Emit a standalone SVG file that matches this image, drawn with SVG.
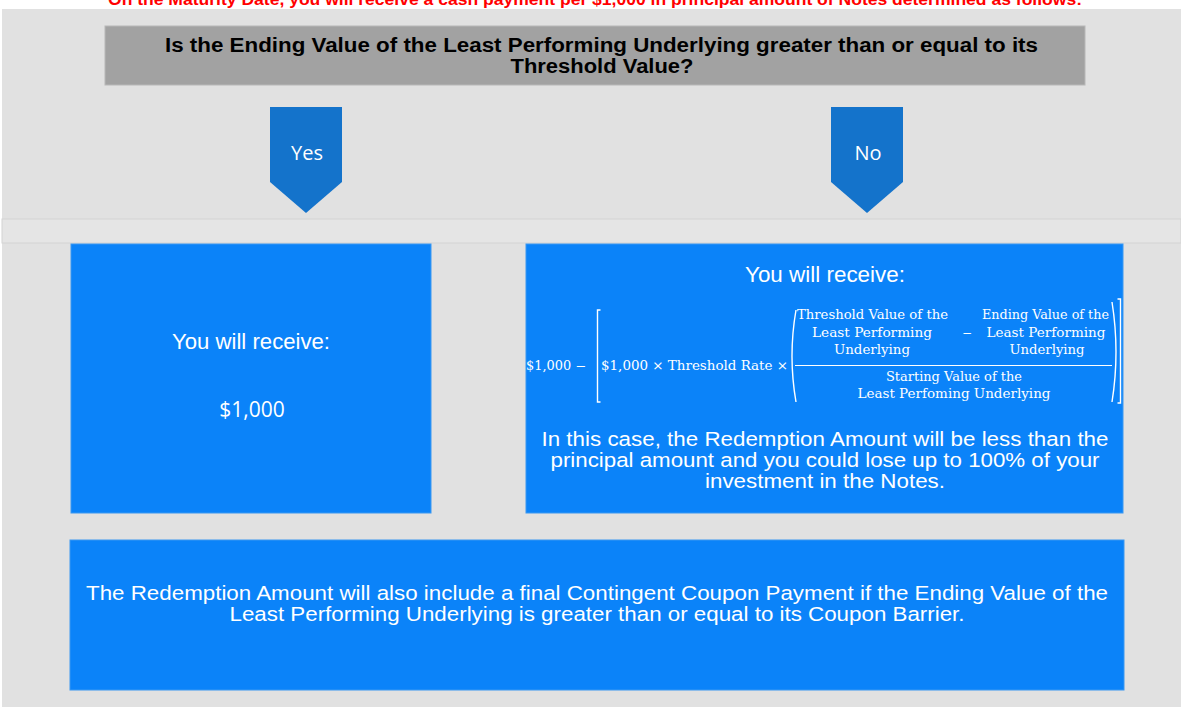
<svg xmlns="http://www.w3.org/2000/svg" width="1181" height="707" viewBox="0 0 1181 707">
<style>
  .sans { font-family: "Liberation Sans", Arial, sans-serif; }
  .open { font-family: "Open Sans", "Liberation Sans", sans-serif; }
  .serif { font-family: "DejaVu Serif", "Liberation Serif", serif; font-size: 12px; fill: #ffffff; }
  .wt { fill: #ffffff; text-anchor: middle; }
  .box { fill: #0b83f9; stroke: #3a98f2; stroke-width: 1; }
  .chev { fill: #1473cb; }
  .br { fill: none; stroke: #ffffff; stroke-width: 1.4; }
</style>
<rect x="0" y="0" width="1181" height="707" fill="#ffffff"/>
<rect x="2" y="9" width="1179" height="698" fill="#e1e1e1"/>

<g id="note">
  <text x="595" y="5" class="sans" font-size="16" font-weight="bold" fill="#ff0000" text-anchor="middle" textLength="974" lengthAdjust="spacingAndGlyphs">On the Maturity Date, you will receive a cash payment per $1,000 in principal amount of Notes determined as follows:</text>
</g>

<g id="question">
  <rect x="105" y="26" width="980" height="59" fill="#a2a2a2" stroke="#b8b8b8" stroke-width="1"/>
  <text x="601.5" y="52" class="sans" font-size="19.5" font-weight="bold" fill="#000000" text-anchor="middle" textLength="873" lengthAdjust="spacingAndGlyphs">Is the Ending Value of the Least Performing Underlying greater than or equal to its</text>
  <text x="602" y="73" class="sans" font-size="19.5" font-weight="bold" fill="#000000" text-anchor="middle" textLength="183" lengthAdjust="spacingAndGlyphs">Threshold Value?</text>
</g>

<g id="band">
  <rect x="2" y="219" width="1179" height="24" fill="#e5e5e5" stroke="#d3d3d3" stroke-width="1"/>
</g>

<g id="connectors">
  <g id="yes-arrow">
    <path class="chev" d="M270,107 H342 V182 L306,213 L270,182 Z"/>
    <text x="307" y="160" class="open wt" font-size="20">Yes</text>
  </g>
  <g id="no-arrow">
    <path class="chev" d="M831,107 H903 V182 L867,213 L831,182 Z"/>
    <text x="868" y="160" class="open wt" font-size="20">No</text>
  </g>
</g>

<g id="yes-box">
  <rect class="box" x="71" y="244" width="360" height="269"/>
  <text x="251" y="349" class="sans wt" font-size="21.5" textLength="158" lengthAdjust="spacingAndGlyphs">You will receive:</text>
  <text x="252" y="417" class="open wt" font-size="21">$1,000</text>
</g>

<g id="no-box">
  <rect class="box" x="526" y="244" width="597" height="269"/>
  <text x="825" y="282" class="sans wt" font-size="21.5" textLength="160" lengthAdjust="spacingAndGlyphs">You will receive:</text>
  <g id="formula">
    <text x="526" y="370" class="serif" textLength="60" lengthAdjust="spacingAndGlyphs">$1,000 −</text>
    <path class="br" d="M600.5,310 H597.5 V402 H600.5"/>
    <text x="601" y="370" class="serif" textLength="187" lengthAdjust="spacingAndGlyphs">$1,000 × Threshold Rate ×</text>
    <path class="br" d="M796,310 Q788,356 796,402"/>
    <text x="797" y="319" class="serif" textLength="151" lengthAdjust="spacingAndGlyphs">Threshold Value of the</text>
    <text x="872" y="337" class="serif" text-anchor="middle" textLength="120" lengthAdjust="spacingAndGlyphs">Least Performing</text>
    <text x="872" y="354" class="serif" text-anchor="middle" textLength="76" lengthAdjust="spacingAndGlyphs">Underlying</text>
    <text x="967" y="337" class="serif" text-anchor="middle">−</text>
    <text x="982" y="319" class="serif" textLength="127" lengthAdjust="spacingAndGlyphs">Ending Value of the</text>
    <text x="1046" y="337" class="serif" text-anchor="middle" textLength="119" lengthAdjust="spacingAndGlyphs">Least Performing</text>
    <text x="1047" y="354" class="serif" text-anchor="middle" textLength="75" lengthAdjust="spacingAndGlyphs">Underlying</text>
    <line x1="795" y1="365.5" x2="1112" y2="365.5" stroke="#ffffff" stroke-width="1"/>
    <text x="954" y="381" class="serif" text-anchor="middle" textLength="136" lengthAdjust="spacingAndGlyphs">Starting Value of the</text>
    <text x="954" y="398" class="serif" text-anchor="middle" textLength="193" lengthAdjust="spacingAndGlyphs">Least Perfoming Underlying</text>
    <path class="br" d="M1112,302 Q1120,352 1112,402"/>
    <path class="br" d="M1117.5,299 H1120.5 V403 H1117.5"/>
  </g>
  <text x="825" y="446" class="sans wt" font-size="20.5" textLength="567" lengthAdjust="spacingAndGlyphs">In this case, the Redemption Amount will be less than the</text>
  <text x="825" y="467" class="sans wt" font-size="20.5" textLength="549" lengthAdjust="spacingAndGlyphs">principal amount and you could lose up to 100% of your</text>
  <text x="825" y="488" class="sans wt" font-size="20.5" textLength="240" lengthAdjust="spacingAndGlyphs">investment in the Notes.</text>
</g>

<g id="coupon-box">
  <rect class="box" x="70" y="540" width="1054" height="150"/>
  <text x="597" y="600" class="sans wt" font-size="20.5" textLength="1022" lengthAdjust="spacingAndGlyphs">The Redemption Amount will also include a final Contingent Coupon Payment if the Ending Value of the</text>
  <text x="597" y="621" class="sans wt" font-size="20.5" textLength="735" lengthAdjust="spacingAndGlyphs">Least Performing Underlying is greater than or equal to its Coupon Barrier.</text>
</g>
</svg>
